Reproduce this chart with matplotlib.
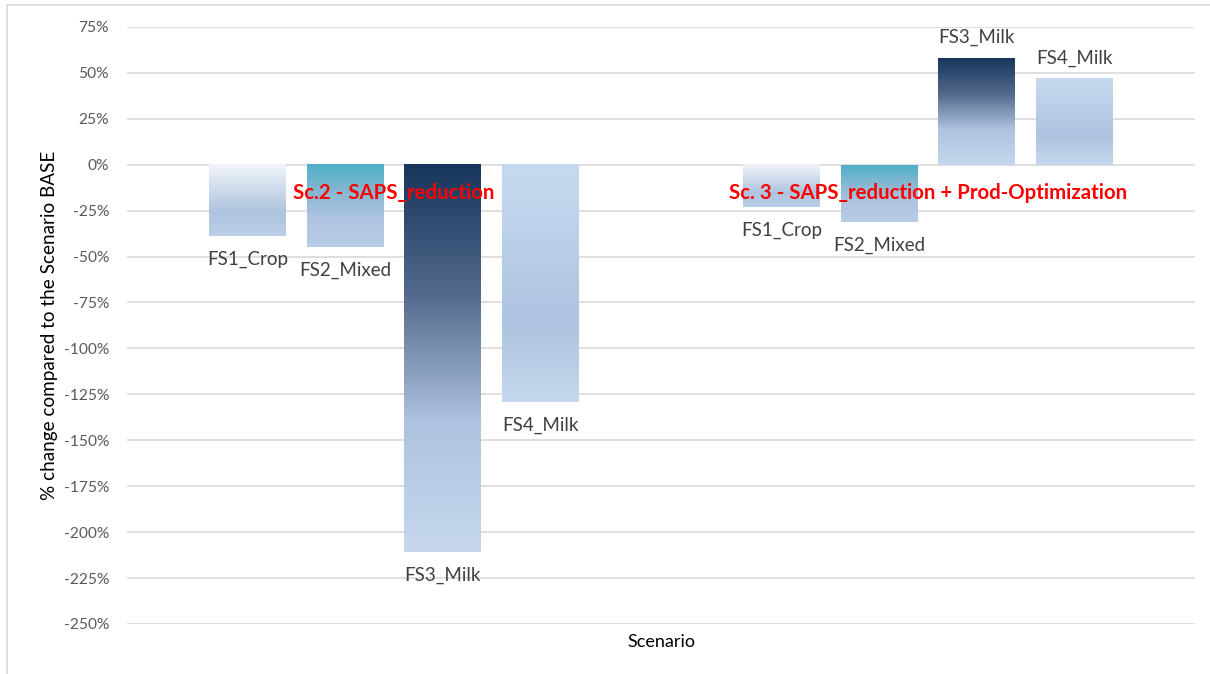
import numpy as np
import matplotlib
matplotlib.use('Agg')
import matplotlib.pyplot as plt
from matplotlib.colors import LinearSegmentedColormap
from matplotlib.patches import Rectangle

# scenarios and farm systems
scenarios = ['Sc.2 - SAPS_reduction', 'Sc. 3 - SAPS_reduction + Prod-Optimization']
farms = ['FS1_Crop', 'FS2_Mixed', 'FS3_Milk', 'FS4_Milk']

# % change compared to the BASE scenario
sc2_values = [-39, -45, -211, -129]
sc3_values = [-23, -31, 58, 47]

yticks = list(range(-250, 76, 25))

# top -> bottom gradient stops for each farm system
gradients = {
    'FS1_Crop': ['#f2f5fa', '#d0dcec', '#adc3df', '#bccfe8'],
    'FS2_Mixed': ['#4fafc7', '#86b8d2', '#b0c4e0', '#b8cce6'],
    'FS3_Milk': ['#17355c', '#52698c', '#aec3df', '#c6d7ed'],
    'FS4_Milk': ['#c7d9ef', '#bacfe9', '#adc3df', '#c6d8ee'],
}

plt.rcParams['font.family'] = ['Lato', 'DejaVu Sans']

fig = plt.figure(figsize=(12.1, 6.74), dpi=100)
ax = fig.add_axes([0.105, 0.0742, 0.8826, 0.886])

step = 0.1826
width = 0.144
offsets = (np.arange(len(farms)) - 1.5) * step

for g, values in enumerate([sc2_values, sc3_values]):
    for i, (farm, v) in enumerate(zip(farms, values)):
        x0 = g + offsets[i] - width / 2
        x1 = x0 + width
        cmap = LinearSegmentedColormap.from_list(farm, gradients[farm])
        grad = np.linspace(0, 1, 256).reshape(-1, 1)
        top, bottom = max(v, 0), min(v, 0)
        ax.imshow(grad, cmap=cmap, aspect='auto', extent=(x0, x1, bottom, top),
                  origin='upper', zorder=2, interpolation='bilinear')
        # value label outside the bar end
        ly = v - 12.8 if v < 0 else v + 11
        ax.text(g + offsets[i], ly, farm, ha='center', va='center',
                fontsize=13.5, color='#404040', zorder=4)
    ax.text(g, -15.5, scenarios[g], ha='center', va='center', fontsize=14.7,
            fontweight='bold', color='red', zorder=5)

ax.set_xlim(-0.5, 1.5)
ax.set_ylim(-250, 75)
ax.set_yticks(yticks)
ax.set_yticklabels([f'{t}%' for t in yticks])
ax.set_xticks([])
ax.tick_params(axis='y', length=0, labelsize=11.2, labelcolor='#595959', pad=13)
ax.grid(axis='y', color='#d9d9d9', linewidth=1.2, zorder=0)
ax.set_axisbelow(True)
for s in ax.spines.values():
    s.set_visible(False)

ax.set_xlabel('Scenario', fontsize=13, color='#000000')
ax.xaxis.label.set_va('center')
ax.xaxis.set_label_coords(0.5, -0.03)
ax.set_ylabel('% change compared to the Scenario BASE', fontsize=13.6, color='#000000')
ax.yaxis.label.set_va('center')
ax.yaxis.set_label_coords(-0.073, 0.5)

fig.patches.append(Rectangle((0.006, -0.01), 1.1, 1.003, transform=fig.transFigure,
                             fill=False, edgecolor='#d9d9d9', linewidth=1.2))

fig.savefig('out.png', dpi=100)
